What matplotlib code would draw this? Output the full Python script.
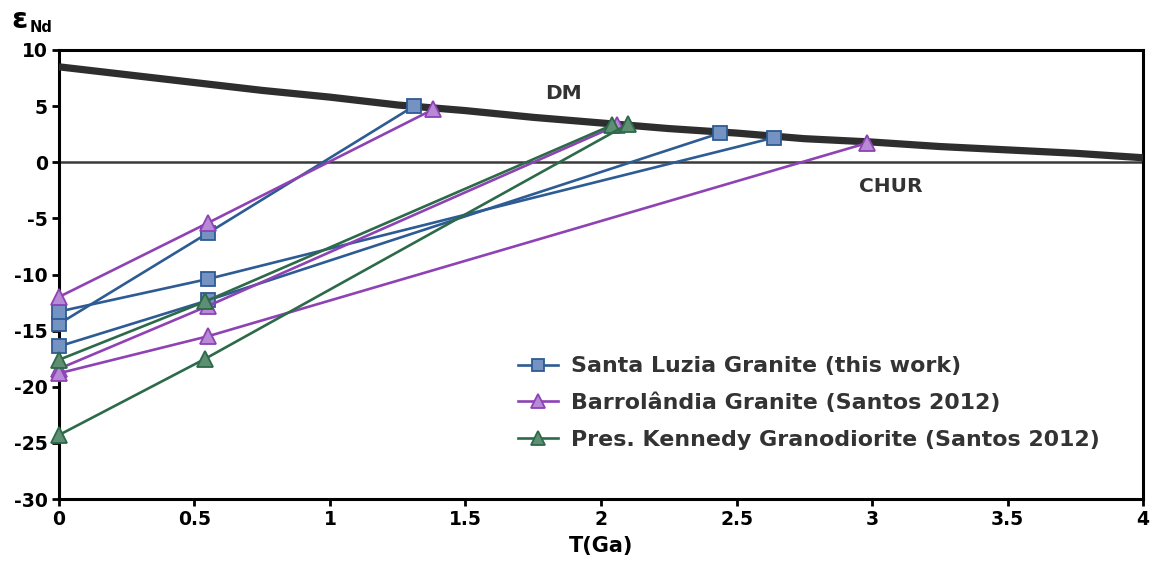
import matplotlib.pyplot as plt
from matplotlib.lines import Line2D

plt.rcParams["font.family"] = ["DejaVu Sans"]
plt.rcParams["font.weight"] = "bold"
plt.rcParams["axes.unicode_minus"] = False

# Depleted mantle evolution curve
dm_t = [0, 0.25, 0.5, 0.75, 1.0, 1.25, 1.5, 1.75, 2.0, 2.25, 2.5, 2.75, 3.0, 3.25, 3.5, 3.75, 4.0]
dm_e = [8.5, 7.8, 7.1, 6.4, 5.8, 5.1, 4.6, 4.0, 3.5, 3.0, 2.6, 2.1, 1.8, 1.4, 1.1, 0.8, 0.4]

# Santa Luzia Granite (this work): one list per sample
santa_luzia_t = [[0, 0.55, 1.31], [0, 0.55, 2.64], [0, 0.55, 2.44]]
santa_luzia_e = [[-14.4, -6.3, 5.0], [-13.3, -10.4, 2.2], [-16.4, -12.3, 2.6]]

# Barrolandia Granite (Santos 2012)
barrolandia_t = [[0, 0.55, 1.38], [0, 0.55, 2.06], [0, 0.55, 2.98]]
barrolandia_e = [[-12.0, -5.4, 4.7], [-18.4, -12.8, 3.3], [-18.8, -15.5, 1.7]]

# Pres. Kennedy Granodiorite (Santos 2012)
kennedy_t = [[0, 0.54, 2.04], [0, 0.54, 2.10]]
kennedy_e = [[-17.6, -12.4, 3.3], [-24.3, -17.5, 3.4]]

series = [
    ("Santa Luzia Granite (this work)", santa_luzia_t, santa_luzia_e, "s", "#2d5b93", "#7593c2"),
    ("Barrolândia Granite (Santos 2012)", barrolandia_t, barrolandia_e, "^", "#8e42b4", "#b68ad6"),
    ("Pres. Kennedy Granodiorite (Santos 2012)", kennedy_t, kennedy_e, "^", "#2c6a4a", "#5f8f73"),
]

fig = plt.figure(figsize=(11.54, 5.72), dpi=100)
ax = fig.add_axes([0.0511, 0.1276, 0.9394, 0.785])

# CHUR and DM reference lines
ax.axhline(0, color="#3a3a3a", lw=1.8, zorder=2)
ax.plot(dm_t, dm_e, color="#2e2e2e", lw=5.2, solid_capstyle="butt", zorder=3)

handles = []
for label, ts, es, mk, col, fill in series:
    for t, e in zip(ts, es):
        ax.plot(t, e, color=col, lw=1.9, marker=mk, ms=9.5 if mk == "s" else 11,
                mfc=fill, mec=col, mew=1.3, zorder=4, clip_on=False)
    handles.append(Line2D([], [], color=col, lw=1.9, marker=mk,
                          ms=9 if mk == "s" else 10, mfc=fill, mec=col, mew=1.3,
                          label=label))

ax.text(1.86, 6.1, "DM", fontsize=14.5, fontweight="bold", color="#333333",
        ha="center", va="center")
ax.text(3.07, -2.2, "CHUR", fontsize=14.5, fontweight="bold", color="#333333",
        ha="center", va="center")

ax.set_xlim(0, 4)
ax.set_ylim(-30, 10)
ax.set_xticks([0, 0.5, 1, 1.5, 2, 2.5, 3, 3.5, 4])
ax.set_xticklabels(["0", "0.5", "1", "1.5", "2", "2.5", "3", "3.5", "4"])
ax.set_yticks(range(-30, 11, 5))
ax.tick_params(direction="out", length=5, width=2, labelsize=13.5, pad=3)
for lab in ax.get_xticklabels() + ax.get_yticklabels():
    lab.set_fontweight("bold")
for sp in ax.spines.values():
    sp.set_linewidth(2.2)
    sp.set_color("black")

ax.set_xlabel("T(Ga)", fontsize=15, fontweight="bold", labelpad=5)

fig.text(0.0095, 0.951, "ε", fontsize=21, fontweight="bold", va="baseline")
fig.text(0.0255, 0.944, "Nd", fontsize=10.5, fontweight="bold", va="baseline")

leg = ax.legend(handles=handles, loc="center left", bbox_to_anchor=(0.405, 0.214),
                frameon=False, fontsize=15.9, handlelength=1.8, handletextpad=0.62,
                labelspacing=0.74)
for txt in leg.get_texts():
    txt.set_color("#333333")
    txt.set_fontweight("bold")

fig.savefig("out.png", dpi=100)
